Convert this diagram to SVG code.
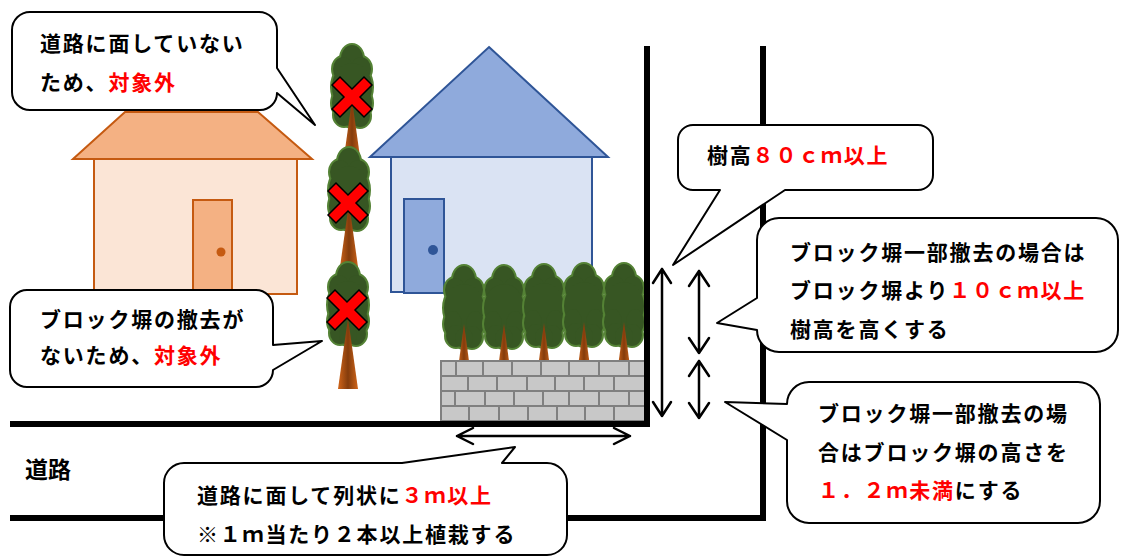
<svg xmlns="http://www.w3.org/2000/svg" xmlns:xlink="http://www.w3.org/1999/xlink" width="1121" height="556" viewBox="0 0 1121 556">
<defs>
<style>
.t{font-family:"Noto Sans CJK JP","Noto Sans CJK SC",sans-serif;font-size:21px;font-weight:700;letter-spacing:1.8px;fill:#000}
.r{fill:#FF0000}
.co{fill:#fff;stroke:#000;stroke-width:2;stroke-linejoin:round}
.road{fill:none;stroke:#000;stroke-width:6;stroke-linejoin:miter}
.arr{fill:none;stroke:#000;stroke-width:2.5;stroke-linecap:round;stroke-linejoin:round}
.brick{fill:#C8C8C8;stroke:#808080;stroke-width:2}
.x{fill:#FF0000;stroke:#000;stroke-width:1.5;stroke-linejoin:miter}
.oh{stroke:#C55A11;stroke-width:2}
.bh{stroke:#2F5597;stroke-width:2}
</style>
<linearGradient id="trunkG" x1="0" x2="1" y1="0" y2="0">
<stop offset="0" stop-color="#D0651A"/><stop offset="0.5" stop-color="#843C0C"/><stop offset="1" stop-color="#D0651A"/>
</linearGradient>
<g id="crownShape">
<ellipse cx="0" cy="14" rx="11" ry="14"/>
<ellipse cx="-9" cy="24" rx="10" ry="12"/>
<ellipse cx="9" cy="24" rx="10" ry="12"/>
<ellipse cx="0" cy="42" rx="20" ry="24"/>
<ellipse cx="-11" cy="58" rx="9" ry="13"/>
<ellipse cx="11" cy="58" rx="9" ry="13"/>
<ellipse cx="-8" cy="70" rx="10" ry="11"/>
<ellipse cx="8" cy="71" rx="10" ry="11"/>
<ellipse cx="0" cy="72" rx="9" ry="10"/>
</g>
<g id="crown">
<use xlink:href="#crownShape" fill="#548235" stroke="#548235" stroke-width="4"/>
<use xlink:href="#crownShape" fill="#375623"/>
</g>
<g id="treeTall"><use xlink:href="#crown"/><polygon points="0,55 10,126 -10,126" fill="url(#trunkG)"/></g>
<g id="treeFront"><use xlink:href="#crown"/><polygon points="0,58 7,110 -7,110" fill="url(#trunkG)"/></g>
<polygon id="xmark" class="x" points="-20,-12 -12,-20 0,-8 12,-20 20,-12 8,0 20,12 12,20 0,8 -12,20 -20,12 -8,0"/>
</defs>
<rect width="1121" height="556" fill="#fff"/>

<g id="house-orange">
<polygon class="oh" points="125,112 258,112 312,159 73,159" fill="#F4B183"/>
<rect class="oh" x="94" y="159" width="203" height="135" fill="#FBE5D6"/>
<rect class="oh" x="193" y="200" width="39" height="94" fill="#F4B183"/>
<circle cx="221" cy="252" r="4.5" fill="#C55A11"/>
</g>

<g id="house-blue">
<polygon class="bh" points="489,47 608,157 370,157" fill="#8FAADC"/>
<rect class="bh" x="391" y="157" width="201" height="135" fill="#DAE3F3"/>
<rect class="bh" x="404" y="199" width="40" height="94" fill="#8FAADC"/>
<circle cx="433" cy="250" r="5" fill="#2F5597"/>
</g>

<g id="trees-excluded">
<use xlink:href="#treeTall" x="352" y="45"/>
<use xlink:href="#treeTall" x="349" y="148"/>
<use xlink:href="#treeTall" x="348" y="263"/>
<use xlink:href="#xmark" x="352" y="97"/>
<use xlink:href="#xmark" x="348" y="203"/>
<use xlink:href="#xmark" x="347" y="310"/>
</g>

<g id="trees-row">
<use xlink:href="#treeFront" x="464" y="266"/>
<use xlink:href="#treeFront" x="504" y="266"/>
<use xlink:href="#treeFront" x="544" y="265"/>
<use xlink:href="#treeFront" x="584" y="264"/>
<use xlink:href="#treeFront" x="624" y="264"/>
</g>

<g id="block-wall">
<rect x="441" y="361" width="204" height="60" fill="#808080"/>
<rect class="brick" x="441" y="361" width="15" height="15"/><rect class="brick" x="456" y="361" width="27" height="15"/><rect class="brick" x="483" y="361" width="29" height="15"/><rect class="brick" x="512" y="361" width="29" height="15"/><rect class="brick" x="541" y="361" width="28" height="15"/><rect class="brick" x="569" y="361" width="30" height="15"/><rect class="brick" x="599" y="361" width="30" height="15"/><rect class="brick" x="629" y="361" width="16" height="15"/>
<rect class="brick" x="441" y="376" width="27" height="15"/><rect class="brick" x="468" y="376" width="29" height="15"/><rect class="brick" x="497" y="376" width="30" height="15"/><rect class="brick" x="527" y="376" width="28" height="15"/><rect class="brick" x="555" y="376" width="29" height="15"/><rect class="brick" x="584" y="376" width="30" height="15"/><rect class="brick" x="614" y="376" width="31" height="15"/>
<rect class="brick" x="441" y="391" width="14" height="15"/><rect class="brick" x="455" y="391" width="30" height="15"/><rect class="brick" x="485" y="391" width="29" height="15"/><rect class="brick" x="514" y="391" width="29" height="15"/><rect class="brick" x="543" y="391" width="26" height="15"/><rect class="brick" x="569" y="391" width="30" height="15"/><rect class="brick" x="599" y="391" width="30" height="15"/><rect class="brick" x="629" y="391" width="16" height="15"/>
<rect class="brick" x="441" y="406" width="28" height="15"/><rect class="brick" x="469" y="406" width="30" height="15"/><rect class="brick" x="499" y="406" width="29" height="15"/><rect class="brick" x="528" y="406" width="29" height="15"/><rect class="brick" x="557" y="406" width="28" height="15"/><rect class="brick" x="585" y="406" width="29" height="15"/><rect class="brick" x="614" y="406" width="31" height="15"/>
</g>

<g id="road">
<path class="road" d="M647,46 V424 H10"/>
<path class="road" d="M763,46 V518 H10"/>
<text class="t" x="25" y="478" style="font-size:23px;letter-spacing:0">道路</text>
</g>

<g id="connectors">
<path class="arr" d="M662,269 V416 M653,283 L662,269 L671,283 M653,402 L662,416 L671,402"/>
<path class="arr" d="M699,271 V353 M689,286 L699,271 L709,286 M689,338 L699,353 L709,338"/>
<path class="arr" d="M699,361 V418 M689,376 L699,361 L709,376 M689,403 L699,418 L709,403"/>
<path class="arr" d="M457,436 H630 M473,428 L457,436 L473,444 M614,428 L630,436 L614,444"/>
</g>

<g id="callout-1">
<path class="co" d="M30,12 H259 A18,18 0 0 1 277,30 V68 L315,125 L277,93 A17,17 0 0 1 260,110 H30 A18,18 0 0 1 12,92 V30 A18,18 0 0 1 30,12 Z"/>
<text class="t" x="40" y="51">道路に面していない</text>
<text class="t" x="40" y="90">ため、<tspan class="r">対象外</tspan></text>
</g>

<g id="callout-2">
<path class="co" d="M27,290 H256 A17,17 0 0 1 273,307 V345 L322,341 L273,370 A17,17 0 0 1 256,387 H27 A17,17 0 0 1 10,370 V307 A17,17 0 0 1 27,290 Z"/>
<text class="t" x="40" y="327">ブロック塀の撤去が</text>
<text class="t" x="40" y="363">ないため、<tspan class="r">対象外</tspan></text>
</g>

<g id="callout-3">
<path class="co" d="M693,125 H918 A15,15 0 0 1 933,140 V175 A15,15 0 0 1 918,190 H785 L673,265 L720,190 H693 A15,15 0 0 1 678,175 V140 A15,15 0 0 1 693,125 Z"/>
<text class="t" x="707" y="163">樹高<tspan class="r">８０ｃｍ以上</tspan></text>
</g>

<g id="callout-4">
<path class="co" d="M779,218 H1096 A22,22 0 0 1 1118,240 V330 A22,22 0 0 1 1096,352 H779 A22,22 0 0 1 757,330 L717,323 L757,298 V240 A22,22 0 0 1 779,218 Z"/>
<text class="t" x="790" y="260">ブロック塀一部撤去の場合は</text>
<text class="t" x="790" y="298">ブロック塀より<tspan class="r">１０ｃｍ以上</tspan></text>
<text class="t" x="790" y="337">樹高を高くする</text>
</g>

<g id="callout-5">
<path class="co" d="M787,440 L725,402 L787,404 A22,22 0 0 1 809,382 H1078 A22,22 0 0 1 1100,404 V501 A22,22 0 0 1 1078,523 H809 A22,22 0 0 1 787,501 Z"/>
<text class="t" x="818" y="421">ブロック塀一部撤去の場</text>
<text class="t" x="818" y="460">合はブロック塀の高さを</text>
<text class="t" x="818" y="498"><tspan class="r">１．２ｍ未満</tspan>にする</text>
</g>

<g id="callout-6">
<path class="co" d="M184,463 H402 L515,447 L502,463 H547 A20,20 0 0 1 567,483 V535 A20,20 0 0 1 547,555 H184 A20,20 0 0 1 164,535 V483 A20,20 0 0 1 184,463 Z"/>
<text class="t" x="197" y="503">道路に面して列状に<tspan class="r">３ｍ以上</tspan></text>
<text class="t" x="197" y="542">※１ｍ当たり２本以上植栽する</text>
</g>
</svg>
